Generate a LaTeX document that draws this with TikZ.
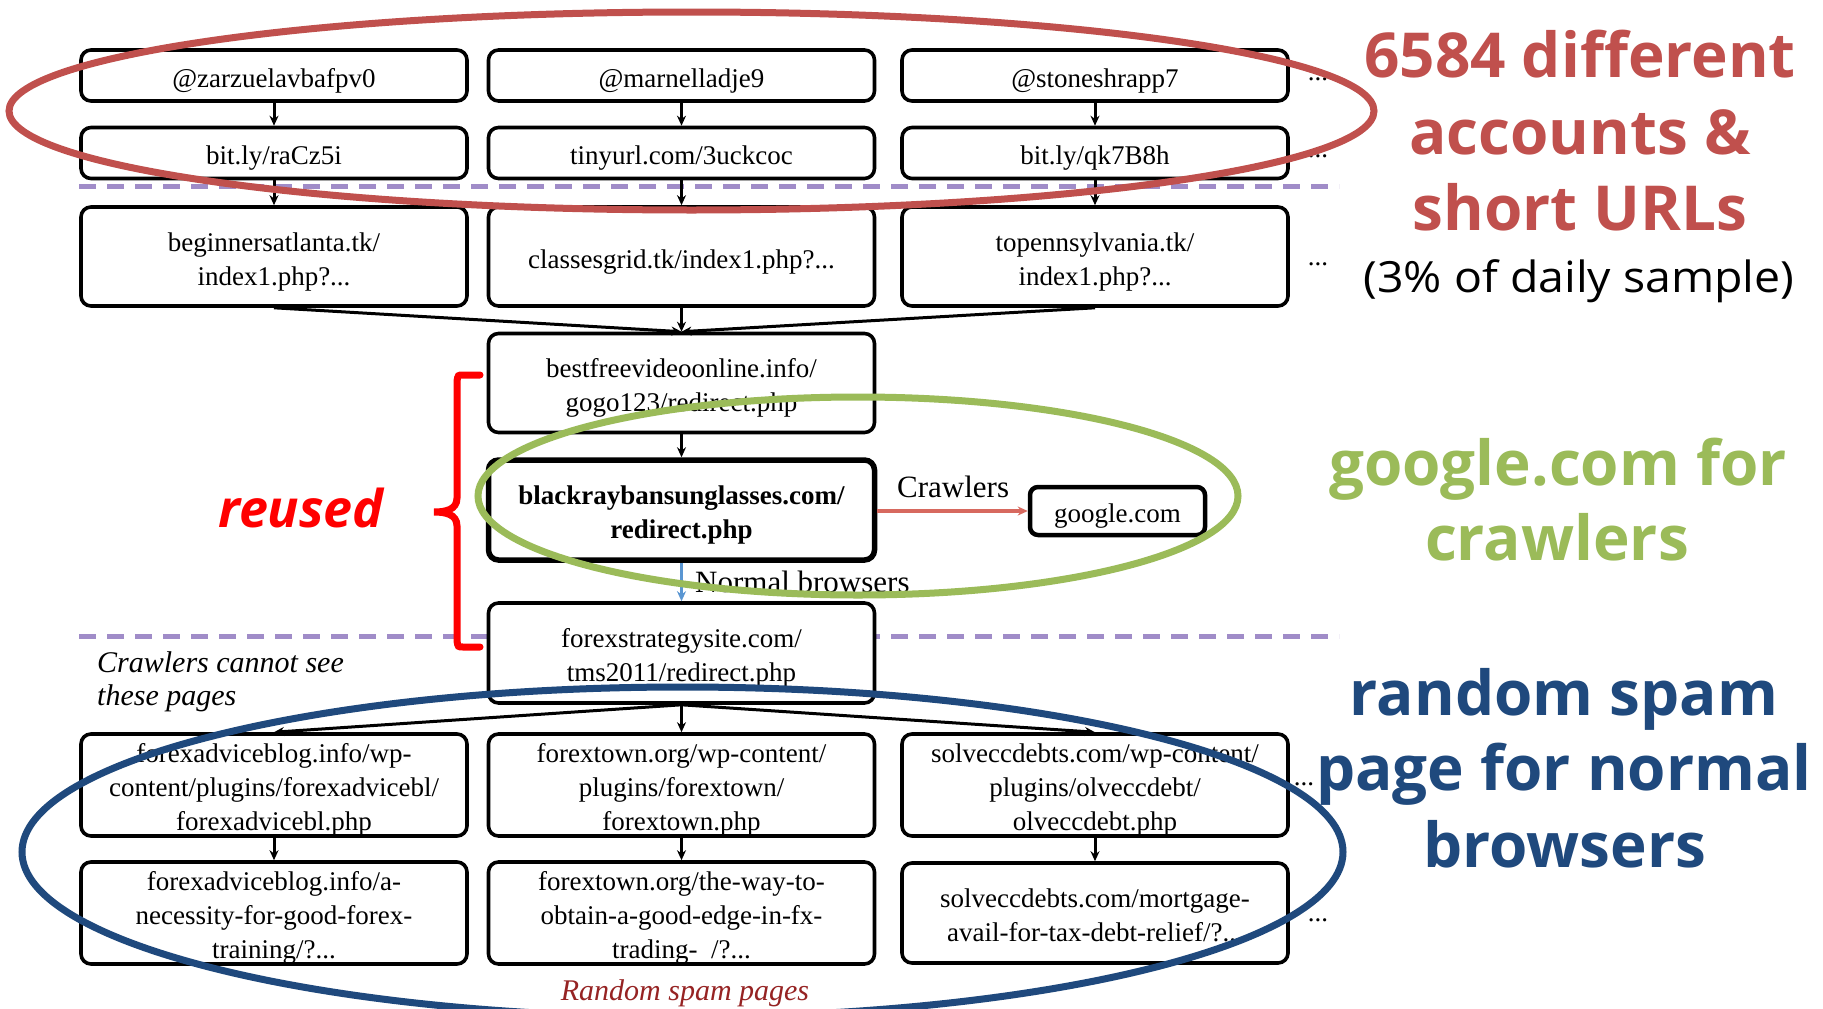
\documentclass[tikz,border=0pt]{standalone}
\usepackage{fontspec}
\setmainfont{Liberation Serif}
\newfontfamily\annotfont{Open Sans}
\newfontfamily\notefont{Open Sans}[FakeStretch=1.08]
\usetikzlibrary{arrows.meta}

\definecolor{ellred}{RGB}{192,80,77}
\definecolor{ellgreen}{RGB}{155,187,89}
\definecolor{ellblue}{RGB}{31,73,125}
\definecolor{sepline}{RGB}{160,140,200}
\definecolor{crawlred}{RGB}{215,105,95}
\definecolor{browserblue}{RGB}{90,150,210}
\definecolor{spamred}{RGB}{150,35,35}
\definecolor{reusedred}{RGB}{255,0,0}

% multi-line box text, set a little below the box centre
\newcommand\urltext[1]{\raisebox{-5pt}[\height][\depth]{\begin{tabular}{@{}c@{}}#1\end{tabular}}}

\tikzset{
  urlbox/.style={draw, line width=3.6pt, rounded corners=10pt, fill=white,
    minimum width=386pt, inner sep=0pt,
    font=\fontsize{27}{34}\selectfont},
  shortrow/.style={minimum height=51pt},
  tallrow/.style={minimum height=99pt},
  flow/.style={line width=3pt, -{Stealth[length=10pt,width=9pt]}},
  separator/.style={sepline, line width=5pt, dash pattern=on 17pt off 11pt},
  annot/.style={font=\annotfont\bfseries\fontsize{62}{75}\selectfont, anchor=base, inner sep=0pt},
  label/.style={font=\fontsize{31}{36}\selectfont, inner sep=0pt, anchor=base west},
  more/.style={font=\fontsize{27}{34}\selectfont, inner sep=0pt, anchor=base},
  hoop/.style={line width=7pt},
}

\begin{document}
\begin{tikzpicture}[x=1pt, y=-1pt]
\useasboundingbox (0,0) rectangle (1823,1009);
\fill[white] (0,0) rectangle (1823,1009);

% phase separators
\draw[separator] (79,186) -- (1339,186);
\draw[separator] (79,636) -- (1339,636);

% accounts
\node[urlbox, shortrow] (a1) at (274,75.5) {\urltext{@zarzuelavbafpv0}};
\node[urlbox, shortrow] (a2) at (681.5,75.5) {\urltext{@marnelladje9}};
\node[urlbox, shortrow] (a3) at (1095,75.5) {\urltext{@stoneshrapp7}};
% short URLs
\node[urlbox, shortrow] (b1) at (274,153) {\urltext{bit.ly/raCz5i}};
\node[urlbox, shortrow] (b2) at (681.5,153) {\urltext{tinyurl.com/3uckcoc}};
\node[urlbox, shortrow] (b3) at (1095,153) {\urltext{bit.ly/qk7B8h}};
% landing pages
\node[urlbox, tallrow] (c1) at (274,256.5) {\urltext{beginnersatlanta.tk/\\index1.php?...}};
\node[urlbox, tallrow] (c2) at (681.5,256.5) {\urltext{classesgrid.tk/index1.php?...}};
\node[urlbox, tallrow] (c3) at (1095,256.5) {\urltext{topennsylvania.tk/\\index1.php?...}};
% redirection chain
\node[urlbox, tallrow] (d) at (681.5,383) {\urltext{bestfreevideoonline.info/\\gogo123/redirect.php}};
\node[urlbox, minimum height=100pt, line width=5.5pt, font=\bfseries\fontsize{27}{34}\selectfont] (e) at (681.5,510) {\urltext{blackraybansunglasses.com/\\redirect.php}};
\node[draw, line width=4.5pt, rounded corners=8pt, fill=white, minimum width=175pt, minimum height=48pt, inner sep=0pt, font=\fontsize{27}{34}\selectfont] (g) at (1117.5,511) {\urltext{google.com}};
\node[urlbox, minimum height=100pt] (f) at (681.5,653) {\urltext{forexstrategysite.com/\\tms2011/redirect.php}};
% spam pages
\node[urlbox, minimum height=100pt] (p1) at (274,785) {\urltext{forexadviceblog.info/wp-\\content/plugins/forexadvicebl/\\forexadvicebl.php}};
\node[urlbox, minimum height=100pt] (p2) at (681.5,785) {\urltext{forextown.org/wp-content/\\plugins/forextown/\\forextown.php}};
\node[urlbox, minimum height=100pt] (p3) at (1095,785) {\urltext{solveccdebts.com/wp-content/\\plugins/olveccdebt/\\olveccdebt.php}};
\node[urlbox, minimum height=100pt] (q1) at (274,913) {\urltext{forexadviceblog.info/a-\\necessity-for-good-forex-\\training/?...}};
\node[urlbox, minimum height=100pt] (q2) at (681.5,913) {\urltext{forextown.org/the-way-to-\\obtain-a-good-edge-in-fx-\\trading-~~/?...}};
\node[urlbox, minimum height=100pt] (q3) at (1095,913) {\urltext{solveccdebts.com/mortgage-\\avail-for-tax-debt-relief/?...}};

% connectors
\foreach \i in {1,2,3} {
  \draw[flow] (a\i) -- (b\i);
  \draw[flow] (b\i) -- (c\i);
  \draw[flow] (c\i.south) -- (d.north);
  \draw[flow] (f.south) -- (p\i.north);
  \draw[flow] (p\i) -- (q\i);
}
\draw[flow] (d) -- (e);
\draw[flow, crawlred, line width=3.5pt] (e.east |- g) -- (g);
\draw[flow, browserblue] (e) -- (f);

% connector labels
\node[label] (lc) at (897,497) {Crawlers};
\node[label] (lb) at (695,592) {Normal browsers};

% further instances
\node[more] (m1) at (1318,80) {...};
\node[more] (m2) at (1318,157) {...};
\node[more] (m3) at (1318,265) {...};
\node[more] (m5) at (1304,785) {...};
\node[more] (m6) at (1318,921) {...};

% side notes
\node[font=\itshape\fontsize{30}{33}\selectfont, inner sep=0pt, anchor=base west] (cs1) at (97,672) {Crawlers cannot see};
\node[font=\itshape\fontsize{30}{33}\selectfont, inner sep=0pt, anchor=base west] (cs2) at (97,705) {these pages};
\node[font=\itshape\fontsize{30}{33}\selectfont, text=spamred, inner sep=0pt, anchor=base] (rs) at (685,1000) {Random spam pages};

% highlight rings
\draw[ellred, hoop] (691.5,111) ellipse [x radius=682.5pt, y radius=99pt];
\draw[ellgreen, hoop] (858,496) ellipse [x radius=380pt, y radius=99pt];
\draw[ellblue, hoop] (682.5,852) ellipse [x radius=660.5pt, y radius=165pt];

% reused brace
\draw[reusedred, line width=7pt, line cap=round]
  (480,375) -- (463,375) .. controls (458,375) .. (457,381) -- (457,498)
  .. controls (457,510) and (445,512) .. (434,512)
  .. controls (445,512) and (457,514) .. (457,526) -- (457,641)
  .. controls (458,647) .. (463,647) -- (480,647);
\node[font=\annotfont\bfseries\itshape\fontsize{52}{60}\selectfont, text=reusedred, inner sep=0pt, anchor=base] (ru) at (301,527) {reused};

% annotations
\node[annot, text=ellred] (t1) at (1580,77) {6584 different};
\node[annot, text=ellred] (t2) at (1580,154) {accounts \&};
\node[annot, text=ellred] (t3) at (1580,230) {short URLs};
\node[font=\notefont\fontsize{43}{50}\selectfont, anchor=base, inner sep=0pt] (t4) at (1579,292) {(3\% of daily sample)};
\node[annot, text=ellgreen] (g1) at (1558,485) {google.com for};
\node[annot, text=ellgreen] (g2) at (1557,560) {crawlers};
\node[annot, text=ellblue] (r1) at (1564,715) {random spam};
\node[annot, text=ellblue] (r2) at (1564,790) {page for normal};
\node[annot, text=ellblue] (r3) at (1565,867) {browsers};
\end{tikzpicture}
\end{document}
